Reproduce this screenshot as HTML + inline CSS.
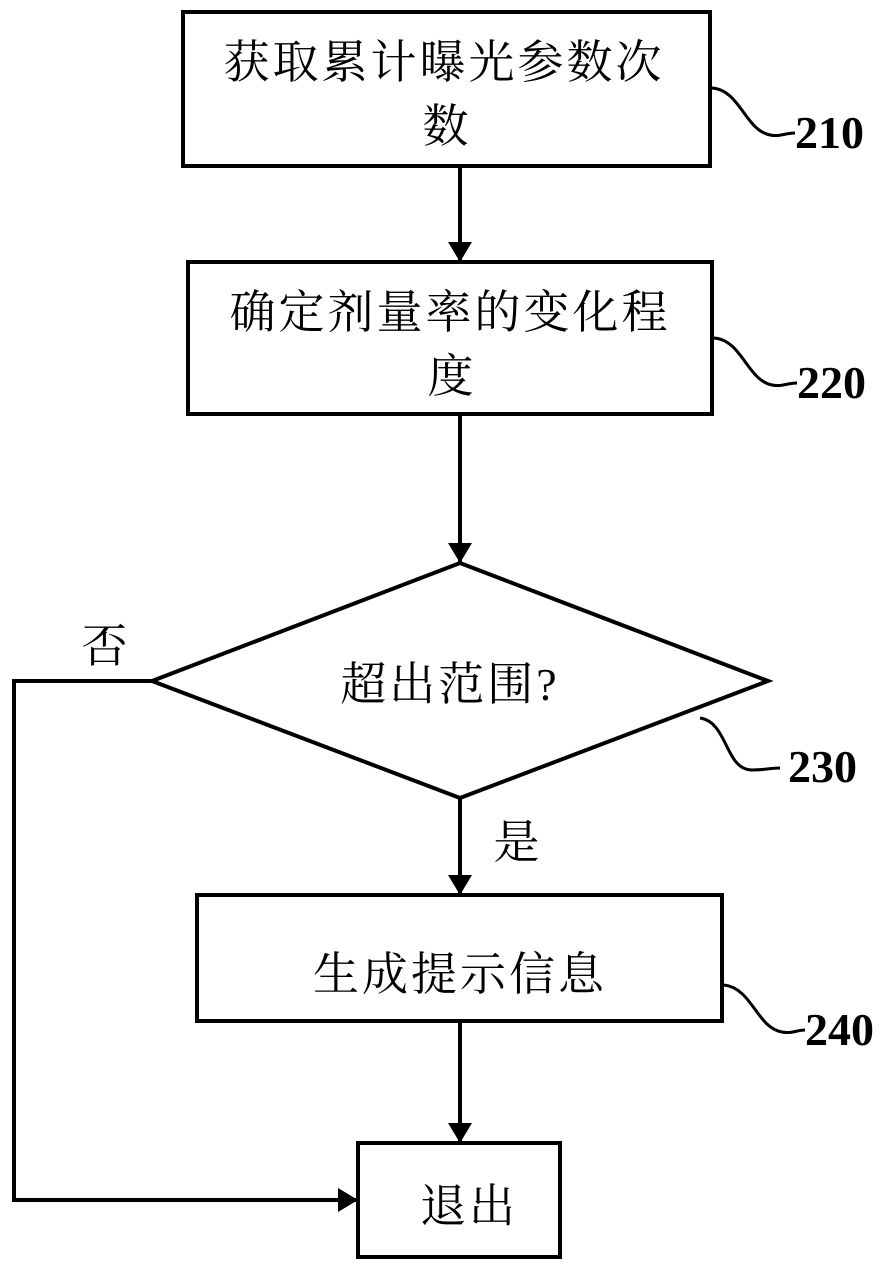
<!DOCTYPE html>
<html><head><meta charset="utf-8"><style>
html,body{margin:0;padding:0;background:#fff;}
svg{display:block}
.t{font-family:"Liberation Serif","Noto Serif CJK SC",serif;font-size:46px;letter-spacing:3px;fill:#000;}
.n{font-family:"Liberation Serif",serif;font-size:46px;font-weight:bold;fill:#000;}
</style></head><body>
<svg width="890" height="1279" viewBox="0 0 890 1279" xmlns="http://www.w3.org/2000/svg">
<defs>
<marker id="b" markerWidth="20" markerHeight="24" refX="20" refY="12" orient="auto" markerUnits="userSpaceOnUse"><path d="M0,0 L20,12 L0,24 z" fill="#000"/></marker></defs>
<g fill="none" stroke="#000" stroke-width="4">
<rect x="183" y="12" width="527" height="154"/>
<rect x="188" y="262" width="524" height="152"/>
<polygon points="460,563 768,681 460,798 152,681"/>
<rect x="197" y="895" width="525" height="126"/>
<rect x="358" y="1143" width="202" height="114"/>
<line x1="460" y1="166" x2="460" y2="262" marker-end="url(#b)"/>
<line x1="460" y1="414" x2="460" y2="563" marker-end="url(#b)"/>
<line x1="460" y1="798" x2="460" y2="895" marker-end="url(#b)"/>
<line x1="460" y1="1021" x2="460" y2="1143" marker-end="url(#b)"/>
<polyline points="152,681 14,681 14,1200 358,1200" marker-end="url(#b)"/>
<g stroke-width="3">
<path d="M712,88 C740,90 745,130 770,135 C780,137 785,133 795,133"/>
<path d="M714,338 C742,340 747,380 772,385 C782,387 787,383 797,383"/>
<path d="M700,718 C728,722 725,770 752,770 C765,770 770,768 780,768"/>
<path d="M724,985 C752,988 757,1028 782,1032 C792,1034 797,1030 805,1030"/>
</g></g>
<g class="t" text-anchor="middle">
<text x="444" y="78">获取累计曝光参数次</text>
<text x="447" y="142">数</text>
<text x="450" y="328">确定剂量率的变化程</text>
<text x="452" y="392">度</text>
<text x="450" y="700">超出范围?</text>
<text x="460" y="990">生成提示信息</text>
<text x="469" y="1222">退出</text>
<text x="106" y="662">否</text>
<text x="518" y="858">是</text>
</g>
<g class="n">
<text x="795" y="148">210</text>
<text x="797" y="398">220</text>
<text x="788" y="782">230</text>
<text x="805" y="1045">240</text>
</g>
</svg>
</body></html>
